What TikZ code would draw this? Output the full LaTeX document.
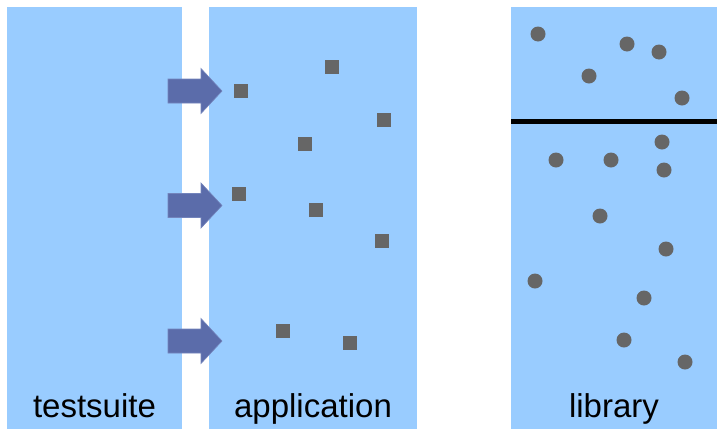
\documentclass[tikz,border=0pt]{standalone}
\usepackage{fontspec}
\setmainfont{Liberation Sans}
\definecolor{panelblue}{HTML}{99CCFF}
\definecolor{arrowblue}{HTML}{5B6CAA}
\definecolor{arrowedge}{HTML}{7384BC}
\definecolor{markgray}{HTML}{666666}
\begin{document}
\begin{tikzpicture}[x=1pt,y=-1pt,
  panel/.style={fill=panelblue,draw=none},
  label/.style={font=\fontsize{33}{40}\selectfont,anchor=base},
  sq/.style={fill=markgray},
  dot/.style={fill=markgray},
  pusharrow/.style={fill=arrowblue,draw=arrowedge,line width=0.6pt}]
\useasboundingbox (0,0) rectangle (717,429);
% the three columns
\path[panel] (7,7) rectangle (182,429);
\path[panel] (209,7) rectangle (417,429);
\path[panel] (511,7) rectangle (717,429);
% column titles
\node[label] (ts) at (94.5,417) {testsuite};
\node[label] (app) at (313,417) {application};
\node[label] (lib) at (614,417) {library};
% divider across the library
\draw[line width=4.3pt] (511,121.5) -- (717,121.5);
% arrows pushing into the application
\foreach \cy in {91,205.5,341}{
  \path[pusharrow] (168,\cy-12) -- (201,\cy-12) -- (201,\cy-22.5) -- (222,\cy)
    -- (201,\cy+22.5) -- (201,\cy+12) -- (168,\cy+12) -- cycle;
}
% entry points of the application
\foreach \px/\py in {241/91,332/67,384/120,305/144,239/194,316/210,382/241,283/331,350/343}{
  \path[sq] (\px-7,\py-7) rectangle (\px+7,\py+7);
}
% functions of the library
\foreach \px/\py in {538/34,627/44,659/52,589/76,682/98,556/160,611/160,662/142,664/170,600/216,666/249,535/281,644/298,624/340,685/362}{
  \path[dot] (\px,\py) circle (7.5);
}
\end{tikzpicture}
\end{document}
